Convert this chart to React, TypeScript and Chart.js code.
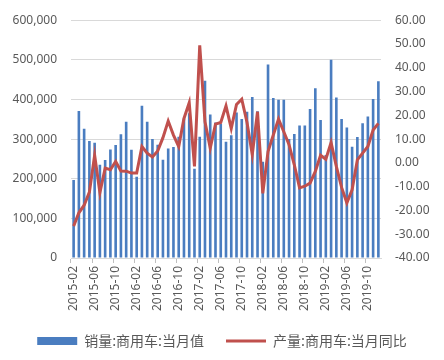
import React, { useEffect, useRef } from 'react';
import { Chart, registerables } from 'chart.js';

Chart.register(...registerables);

const categories = [
  '2015-02', '2015-03', '2015-04', '2015-05', '2015-06', '2015-07', '2015-08', '2015-09', '2015-10', '2015-11', '2015-12',
  '2016-01', '2016-02', '2016-03', '2016-04', '2016-05', '2016-06', '2016-07', '2016-08', '2016-09', '2016-10', '2016-11', '2016-12',
  '2017-01', '2017-02', '2017-03', '2017-04', '2017-05', '2017-06', '2017-07', '2017-08', '2017-09', '2017-10', '2017-11', '2017-12',
  '2018-01', '2018-02', '2018-03', '2018-04', '2018-05', '2018-06', '2018-07', '2018-08', '2018-09', '2018-10', '2018-11', '2018-12',
  '2019-01', '2019-02', '2019-03', '2019-04', '2019-05', '2019-06', '2019-07', '2019-08', '2019-09', '2019-10', '2019-11', '2019-12',
];

// 销量:商用车:当月值 (辆)
const salesValues = [
  197000, 371000, 326000, 295000, 291000, 235000, 247000, 274000, 285000, 312000, 344000,
  273000, 205000, 384000, 344000, 300000, 286000, 248000, 276000, 280000, 306000, 352000, 365000,
  225000, 306000, 447000, 362000, 342000, 338000, 293000, 310000, 367000, 351000, 369000, 406000,
  370000, 243000, 488000, 404000, 399000, 399000, 300000, 313000, 334000, 334000, 376000, 428000,
  348000, 260000, 500000, 405000, 351000, 329000, 281000, 305000, 340000, 357000, 401000, 446000,
];

// 产量:商用车:当月同比 (%)
const yoyValues = [
  -26.6, -21.0, -17.8, -12.3, 3.2, -12.5, -2.2, -2.9, 0.6, -3.4, -3.5,
  -4.3, -4.3, 6.9, 4.1, 2.5, 5.0, 10.6, 17.6, 11.7, 6.9, 18.7, 25.3,
  -1.5, 49.4, 17.3, 6.2, 16.3, 17.0, 24.0, 14.5, 24.6, 26.8, 17.0, 3.5,
  21.5, -12.8, 4.8, 11.7, 18.4, 13.1, 7.6, -0.8, -10.5, -9.8, -8.5, -3.6,
  3.2, 1.5, 8.5, -1.5, -10.3, -16.8, -11.3, 1.3, 4.1, 6.9, 13.8, 16.6,
];

const seriesNames = ['销量:商用车:当月值', '产量:商用车:当月同比'];

const BLUE = '#4a7dc0';
const RED = '#c0504d';
const TEXT = '#595959';
const GRID = '#d9d9d9';
const FONT = "'Noto Sans', 'Noto Sans CJK SC', sans-serif";

export default function App() {
  const ref = useRef<HTMLCanvasElement>(null);

  useEffect(() => {
    if (!ref.current) return;
    const chart = new Chart(ref.current, {
      type: 'bar',
      data: {
        labels: categories,
        datasets: [
          {
            type: 'bar',
            label: seriesNames[0],
            data: salesValues,
            backgroundColor: BLUE,
            borderWidth: 0,
            barPercentage: 0.5,
            categoryPercentage: 1.0,
            yAxisID: 'y',
            order: 1,
          },
          {
            type: 'line',
            label: seriesNames[1],
            data: yoyValues,
            borderColor: RED,
            backgroundColor: RED,
            borderWidth: 3,
            pointRadius: 0,
            tension: 0,
            yAxisID: 'y1',
            order: 0,
          },
        ],
      },
      options: {
        responsive: false,
        animation: false,
        layout: { padding: { top: 0, left: 0, right: 0, bottom: 0 } },
        plugins: {
          tooltip: { enabled: false },
          legend: {
            position: 'bottom',
            labels: {
              usePointStyle: true,
              pointStyleWidth: 40,
              boxHeight: 8,
              padding: 22,
              color: TEXT,
              font: { size: 14, family: "'Noto Sans CJK SC', sans-serif" },
              sort: (a: any, b: any) => a.datasetIndex - b.datasetIndex,
              generateLabels: (c: any) => {
                const items = Chart.defaults.plugins.legend.labels.generateLabels(c);
                items.forEach((it: any) => {
                  if (it.datasetIndex === 0) {
                    it.pointStyle = 'rect';
                    it.fillStyle = BLUE;
                    it.strokeStyle = BLUE;
                    it.lineWidth = 0;
                  } else {
                    it.pointStyle = 'line';
                    it.fillStyle = 'rgba(0,0,0,0)';
                    it.strokeStyle = RED;
                    it.lineWidth = 3;
                  }
                });
                return items;
              },
            },
          },
        },
        scales: {
          x: {
            offset: true,
            grid: {
              offset: true,
              drawOnChartArea: false,
              drawTicks: true,
              tickLength: 5,
              color: (ctx: any) => (ctx.index % 4 === 0 ? '#bfbfbf' : 'rgba(0,0,0,0)'),
            },
            border: { color: GRID },
            ticks: {
              autoSkip: false,
              maxRotation: 90,
              minRotation: 90,
              padding: 3,
              color: TEXT,
              font: { size: 12, family: FONT },
              callback: (_v: any, i: number) => (i % 4 === 0 ? categories[i] : ''),
            },
            afterFit: (scale: any) => {
              scale.height = 54;
            },
          },
          y: {
            position: 'left',
            min: 0,
            max: 600000,
            grid: { color: GRID, drawTicks: false },
            border: { display: false },
            ticks: {
              stepSize: 100000,
              padding: 14,
              color: TEXT,
              font: { size: 12, family: FONT },
              callback: (v: any) => Number(v).toLocaleString('en-US'),
            },
            afterFit: (scale: any) => {
              scale.width = 63;
            },
          },
          y1: {
            position: 'right',
            min: -40,
            max: 60,
            grid: { drawOnChartArea: false, drawTicks: false },
            border: { display: false },
            ticks: {
              stepSize: 10,
              padding: 14,
              color: TEXT,
              font: { size: 12, family: FONT },
              callback: (v: any) => Number(v).toFixed(2),
            },
            afterFit: (scale: any) => {
              scale.width = 55;
            },
          },
        },
      },
    });
    return () => chart.destroy();
  }, []);

  return (
    <div style={{ width: 428, height: 359, marginTop: -9 }}>
      <canvas ref={ref} width={428} height={359} style={{ display: 'block' }} />
    </div>
  );
}
